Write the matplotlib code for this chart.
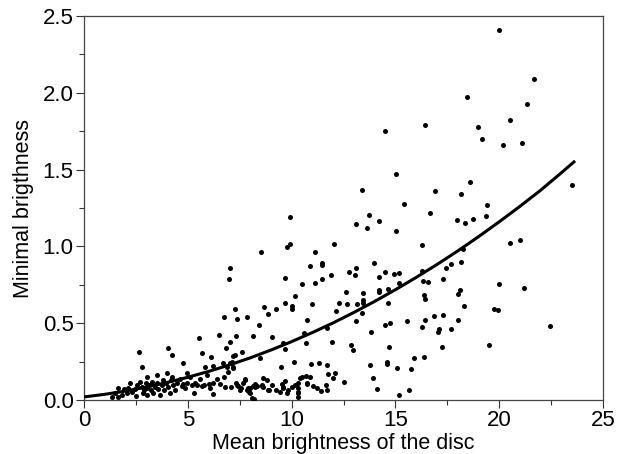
import numpy as np
import matplotlib
matplotlib.use("Agg")
import matplotlib.pyplot as plt

plt.rcParams['font.family'] = ['Liberation Sans', 'DejaVu Sans']

# measured points (mean brightness, minimal brightness)
mean_b = [
    20.0, 21.68, 18.43, 21.32, 20.52, 16.43, 14.5, 18.98, 19.16, 20.17, 21.1, 23.49, 15.03, 18.59, 13.37, 16.92, 18.14,
    15.41, 19.41, 16.67, 19.36, 17.97, 18.74, 18.35, 15.04, 16.3, 20.52, 21.02, 18.24, 18.16, 14.5, 14.93, 15.16, 16.3,
    17.66, 17.44, 16.31, 16.55, 15.16, 17.28, 14.66, 19.99, 21.19, 16.38, 16.44, 18.11, 18.03, 14.64,
    18.32, 19.76, 19.96, 14.5, 14.76, 15.56, 16.27, 16.43, 16.87, 17.28, 18.0, 17.04, 17.1, 17.66, 19.52, 14.71, 17.26,
    14.58, 14.58, 15.9, 16.36, 15.06, 15.75, 15.65, 15.17, 22.45,
    9.92, 13.71, 13.1, 14.19, 13.62, 8.51, 9.8, 9.92, 12.04, 11.14, 13.97, 10.89, 11.45, 11.45, 13.1, 12.78, 13.07,
    14.23, 9.67, 7.03, 6.97, 11.88, 11.48, 11.13, 10.52, 12.62, 13.42, 14.19, 14.19, 10.18, 9.7, 12.3, 12.68, 13.15,
    13.44, 13.44, 10.97, 8.67, 9.25, 10.0, 10.0, 7.26, 12.14, 8.88,
    7.84, 10.73, 8.41, 7.32, 8.13, 9.06, 10.6, 11.69, 13.1, 13.39, 13.81, 9.57, 10.69, 11.93, 12.85, 12.97, 9.68,
    7.03, 7.27, 7.6, 8.48, 7.11, 7.19, 10.13, 9.47, 10.92, 11.34, 11.69, 13.78, 13.9, 11.77, 12.09, 12.01, 12.52, 14.1,
    10.89, 10.4, 9.68, 9.52, 9.6, 9.84, 7.76, 7.35, 7.51, 7.91, 8.0, 8.24, 8.56, 8.64, 8.93, 8.08, 8.2, 10.32, 10.32,
    10.32, 10.32, 10.73, 11.02, 11.24, 11.4, 11.66, 11.69, 10.69,
    2.67, 2.78, 4.06, 4.22, 4.78, 5.52, 5.67, 6.12, 6.49, 6.73, 7.39, 6.84, 6.71, 7.19,
    1.65, 2.06, 2.10, 1.93, 2.30, 2.46, 2.50, 2.57, 2.70, 2.78, 2.83, 2.89, 2.99, 3.02, 3.05, 3.15, 3.21, 3.26, 3.34,
    3.42, 3.50, 3.58, 3.66, 3.74, 3.82, 3.85, 3.95, 4.06, 4.14, 4.17, 4.22, 4.30, 4.38, 4.50, 4.62, 4.70, 4.78, 4.87,
    4.95, 5.11, 5.19, 5.30, 5.35, 5.46, 5.59, 5.67, 5.78, 5.91, 6.04, 6.07, 6.23, 6.23, 6.39, 6.55, 6.74, 6.79, 6.87,
    6.95, 7.03, 7.06, 7.19, 7.32, 7.43, 7.55, 7.64, 7.76, 7.84, 8.00, 7.96, 8.12, 8.24, 8.35, 8.56, 8.64, 8.80, 8.88,
    9.04, 9.25, 9.44, 9.57, 9.76, 10.0, 10.16, 10.32, 10.48, 10.73, 1.49, 1.33, 1.65, 1.81, 2.22,
    3.02, 3.50, 3.98, 4.95, 5.83, 6.23,
]
min_b = [
    2.41, 2.09, 1.97, 1.93, 1.82, 1.79, 1.75, 1.78, 1.70, 1.66, 1.675, 1.40, 1.47, 1.42, 1.365, 1.36, 1.34,
    1.276, 1.27, 1.215, 1.20, 1.174, 1.178, 1.15, 1.098, 1.007, 1.022, 1.044, 0.98, 0.898, 0.835, 0.82, 0.825, 0.842,
    0.883, 0.861, 0.775, 0.766, 0.76, 0.788, 0.725, 0.757, 0.727, 0.686, 0.66, 0.716, 0.692, 0.63,
    0.612, 0.592, 0.588, 0.488, 0.499, 0.514, 0.477, 0.521, 0.547, 0.553, 0.523, 0.445, 0.46, 0.46, 0.358, 0.345, 0.347,
    0.25, 0.234, 0.271, 0.282, 0.206, 0.202, 0.067, 0.03, 0.482,
    1.191, 1.206, 1.146, 1.165, 1.12, 0.964, 0.998, 1.016, 1.016, 0.966, 0.894, 0.872, 0.894, 0.876, 0.861, 0.833, 0.812,
    0.801, 0.794, 0.861, 0.786, 0.812, 0.786, 0.76, 0.753, 0.701, 0.697, 0.716, 0.70, 0.675, 0.631, 0.634, 0.625, 0.623,
    0.651, 0.63, 0.625, 0.608, 0.594, 0.61, 0.59, 0.592, 0.581, 0.56,
    0.538, 0.521, 0.488, 0.417, 0.417, 0.412, 0.434, 0.467, 0.516, 0.564, 0.445, 0.369, 0.373, 0.38, 0.358, 0.326, 0.332,
    0.376, 0.293, 0.315, 0.271, 0.25, 0.206, 0.245, 0.213, 0.234, 0.243, 0.228, 0.228, 0.145, 0.167, 0.174, 0.141, 0.119, 0.069,
    0.148, 0.141, 0.126, 0.104, 0.076, 0.065, 0.13, 0.098, 0.065, 0.076, 0.044, 0.087, 0.091, 0.141, 0.065, 0.011, 0.008, 0.113, 0.076,
    0.055, 0.018, 0.104, 0.091, 0.076, 0.061, 0.098, 0.065, 0.156,
    0.315, 0.217, 0.336, 0.293, 0.239, 0.401, 0.304, 0.278, 0.423, 0.538, 0.527, 0.336, 0.239, 0.286,
    0.022, 0.043, 0.080, 0.074, 0.054, 0.069, 0.028, 0.098, 0.119, 0.087, 0.043, 0.065, 0.109, 0.076, 0.033, 0.098, 0.065, 0.119, 0.043,
    0.087, 0.109, 0.069, 0.033, 0.098, 0.130, 0.065, 0.109, 0.087, 0.043, 0.130, 0.152, 0.098, 0.065, 0.113, 0.135, 0.091, 0.104, 0.076,
    0.113, 0.152, 0.098, 0.043, 0.109, 0.100, 0.135, 0.091, 0.098, 0.163, 0.104, 0.076, 0.109, 0.039, 0.135, 0.104, 0.152, 0.087, 0.217,
    0.184, 0.239, 0.087, 0.217, 0.109, 0.091, 0.076, 0.109, 0.135, 0.065, 0.076, 0.054, 0.091, 0.102, 0.091, 0.098, 0.087, 0.130, 0.065,
    0.098, 0.065, 0.054, 0.087, 0.043, 0.087, 0.098, 0.043, 0.152, 0.109, 0.043, 0.022, 0.076, 0.033, 0.109,
    0.152, 0.163, 0.174, 0.174, 0.217, 0.221,
]

# fitted curve
fit_x = [0, 1, 2, 3, 4, 5, 6, 7, 8, 9, 10, 11, 12, 13, 14, 15, 16, 17, 18, 19, 20, 21, 22, 23, 23.6]
fit_y = [0.02, 0.037, 0.058, 0.084, 0.114, 0.148, 0.186, 0.228, 0.274, 0.325, 0.38, 0.439, 0.502,
         0.570, 0.642, 0.718, 0.798, 0.882, 0.970, 1.063, 1.16, 1.261, 1.366, 1.48, 1.55]

fig = plt.figure(figsize=(6.19, 4.54), dpi=100)
ax = fig.add_axes([84/619, 54/454, 519/619, 384/454])

ax.scatter(mean_b, min_b, s=13, color='black', linewidths=0, zorder=3)
ax.plot(fit_x, fit_y, color='black', lw=2.2, zorder=4, solid_joinstyle='round')

ax.set_xlim(0, 25)
ax.set_ylim(0, 2.5)
ax.set_xticks([0, 5, 10, 15, 20, 25])
ax.set_xticks(np.arange(2.5, 25, 5), minor=True)
ax.set_yticks([0.0, 0.5, 1.0, 1.5, 2.0, 2.5])
ax.set_yticks(np.arange(0.25, 2.5, 0.5), minor=True)
ax.yaxis.set_major_formatter(matplotlib.ticker.FormatStrFormatter('%.1f'))

ax.tick_params(which='major', direction='out', length=6, width=0.8, labelsize=16, pad=1.5, color='#333333')
ax.tick_params(which='minor', direction='out', length=3.5, width=0.8, color='#333333')
for s in ax.spines.values():
    s.set_linewidth(0.9)
    s.set_color('#444444')

ax.set_xlabel('Mean brightness of the disc', fontsize=15.5, labelpad=1)
ax.set_ylabel('Minimal brigthness', fontsize=15.5, labelpad=6)

fig.savefig('out.png', dpi=100)
